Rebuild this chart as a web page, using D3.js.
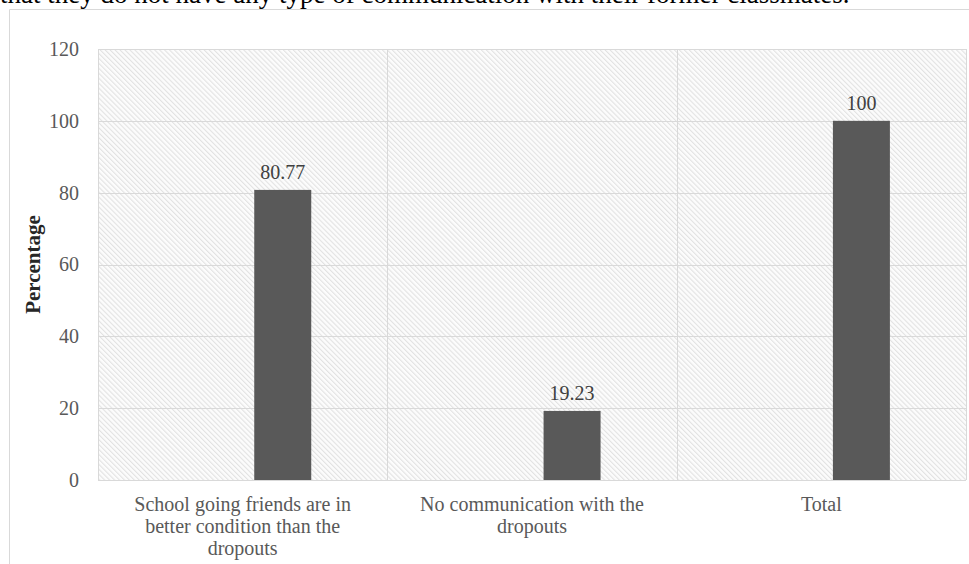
<!DOCTYPE html>
<html>
<head>
<meta charset="utf-8">
<script src="https://cdn.jsdelivr.net/npm/d3@7/dist/d3.min.js"></script>
<style>
  html, body { margin: 0; padding: 0; background: #fff; }
  svg { display: block; font-family: "Liberation Serif", "Times New Roman", serif; }
</style>
</head>
<body>
<svg id="chart" width="969" height="564"></svg>
<script>
// Responses about former classmates (percentage of respondents)
const categories = [
  "School going friends are in better condition than the dropouts",
  "No communication with the dropouts",
  "Total"
];
const categoryLines = [
  ["School going friends are in", "better condition than the", "dropouts"],
  ["No communication with the", "dropouts"],
  ["Total"]
];
const percentages = [80.77, 19.23, 100];
const valueLabels = ["80.77", "19.23", "100"];
const yTicks = [0, 20, 40, 60, 80, 100, 120];
const yTitle = "Percentage";
const leadText = "that they do not have any type of communication with their former classmates.";

const svg = d3.select("#chart");
const plot = { left: 98, right: 966, top: 49, bottom: 480 };

// Fine diagonal hatch used for the plot background
const defs = svg.append("defs");
const pat = defs.append("pattern")
  .attr("id", "hatch")
  .attr("patternUnits", "userSpaceOnUse")
  .attr("width", 3.5).attr("height", 3.5)
  .attr("patternTransform", "rotate(-45)");
pat.append("rect").attr("width", 3.5).attr("height", 3.5).attr("fill", "#fcfcfc");
pat.append("rect").attr("x", 0).attr("y", 0).attr("width", 1.1).attr("height", 3.5).attr("fill", "#e2e2e2");

// Running text from the page above the figure
svg.append("text")
  .attr("x", 0).attr("y", 3)
  .attr("font-size", 27)
  .attr("fill", "#000")
  .text(leadText);

// Figure frame
svg.append("path")
  .attr("d", "M9.5,564 V9.5 H969")
  .attr("fill", "none")
  .attr("stroke", "#d9d9d9")
  .attr("stroke-width", 1);

const x = d3.scaleBand()
  .domain(categories)
  .range([plot.left, plot.right])
  .padding(0);

const y = d3.scaleLinear()
  .domain([0, 120])
  .range([plot.bottom, plot.top]);

// Plot background
svg.append("rect")
  .attr("x", plot.left).attr("y", plot.top)
  .attr("width", plot.right - plot.left)
  .attr("height", plot.bottom - plot.top)
  .attr("fill", "url(#hatch)");

// Horizontal gridlines
svg.append("g")
  .selectAll("line")
  .data(yTicks)
  .join("line")
  .attr("x1", plot.left).attr("x2", plot.right)
  .attr("y1", d => Math.round(y(d)) + 0.5)
  .attr("y2", d => Math.round(y(d)) + 0.5)
  .attr("stroke", "#d9d9d9");

// Vertical category separators
const seps = categories.map(c => x(c)).concat([plot.right]);
svg.append("g")
  .selectAll("line")
  .data(seps)
  .join("line")
  .attr("x1", d => Math.round(d) + 0.5).attr("x2", d => Math.round(d) + 0.5)
  .attr("y1", plot.top).attr("y2", plot.bottom)
  .attr("stroke", "#d9d9d9");

// Y axis tick labels
const yAxis = d3.axisLeft(y).tickValues(yTicks).tickSize(0).tickPadding(19);
const gy = svg.append("g")
  .attr("transform", `translate(${plot.left},0)`)
  .call(yAxis);
gy.select(".domain").remove();
gy.selectAll("text")
  .attr("font-family", "Liberation Serif, Times New Roman, serif")
  .attr("font-size", 20)
  .attr("fill", "#595959");

// Y axis title
svg.append("text")
  .attr("transform", `translate(40,${(plot.top + plot.bottom) / 2}) rotate(-90)`)
  .attr("text-anchor", "middle")
  .attr("font-size", 21)
  .attr("font-weight", "bold")
  .attr("fill", "#262626")
  .text(yTitle);

// Bars
const barOffset = 0.54, barWidth = 0.197;
const data = categories.map((c, i) => ({ c, v: percentages[i], label: valueLabels[i] }));
svg.append("g")
  .selectAll("rect")
  .data(data)
  .join("rect")
  .attr("x", d => x(d.c) + x.bandwidth() * barOffset)
  .attr("width", x.bandwidth() * barWidth)
  .attr("y", d => y(d.v))
  .attr("height", d => y(0) - y(d.v))
  .attr("fill", "#595959");

// Value labels
svg.append("g")
  .selectAll("text")
  .data(data)
  .join("text")
  .attr("x", d => x(d.c) + x.bandwidth() * (barOffset + barWidth / 2))
  .attr("y", d => y(d.v) - 11)
  .attr("text-anchor", "middle")
  .attr("font-size", 20)
  .attr("fill", "#404040")
  .text(d => d.label);

// Category labels
const gx = svg.append("g");
categories.forEach((c, i) => {
  const t = gx.append("text")
    .attr("x", x(c) + x.bandwidth() / 2)
    .attr("y", 511)
    .attr("text-anchor", "middle")
    .attr("font-size", 20)
    .attr("fill", "#595959");
  categoryLines[i].forEach((line, j) => {
    t.append("tspan")
      .attr("x", x(c) + x.bandwidth() / 2)
      .attr("dy", j === 0 ? 0 : 22)
      .text(line);
  });
});
</script>
</body>
</html>
